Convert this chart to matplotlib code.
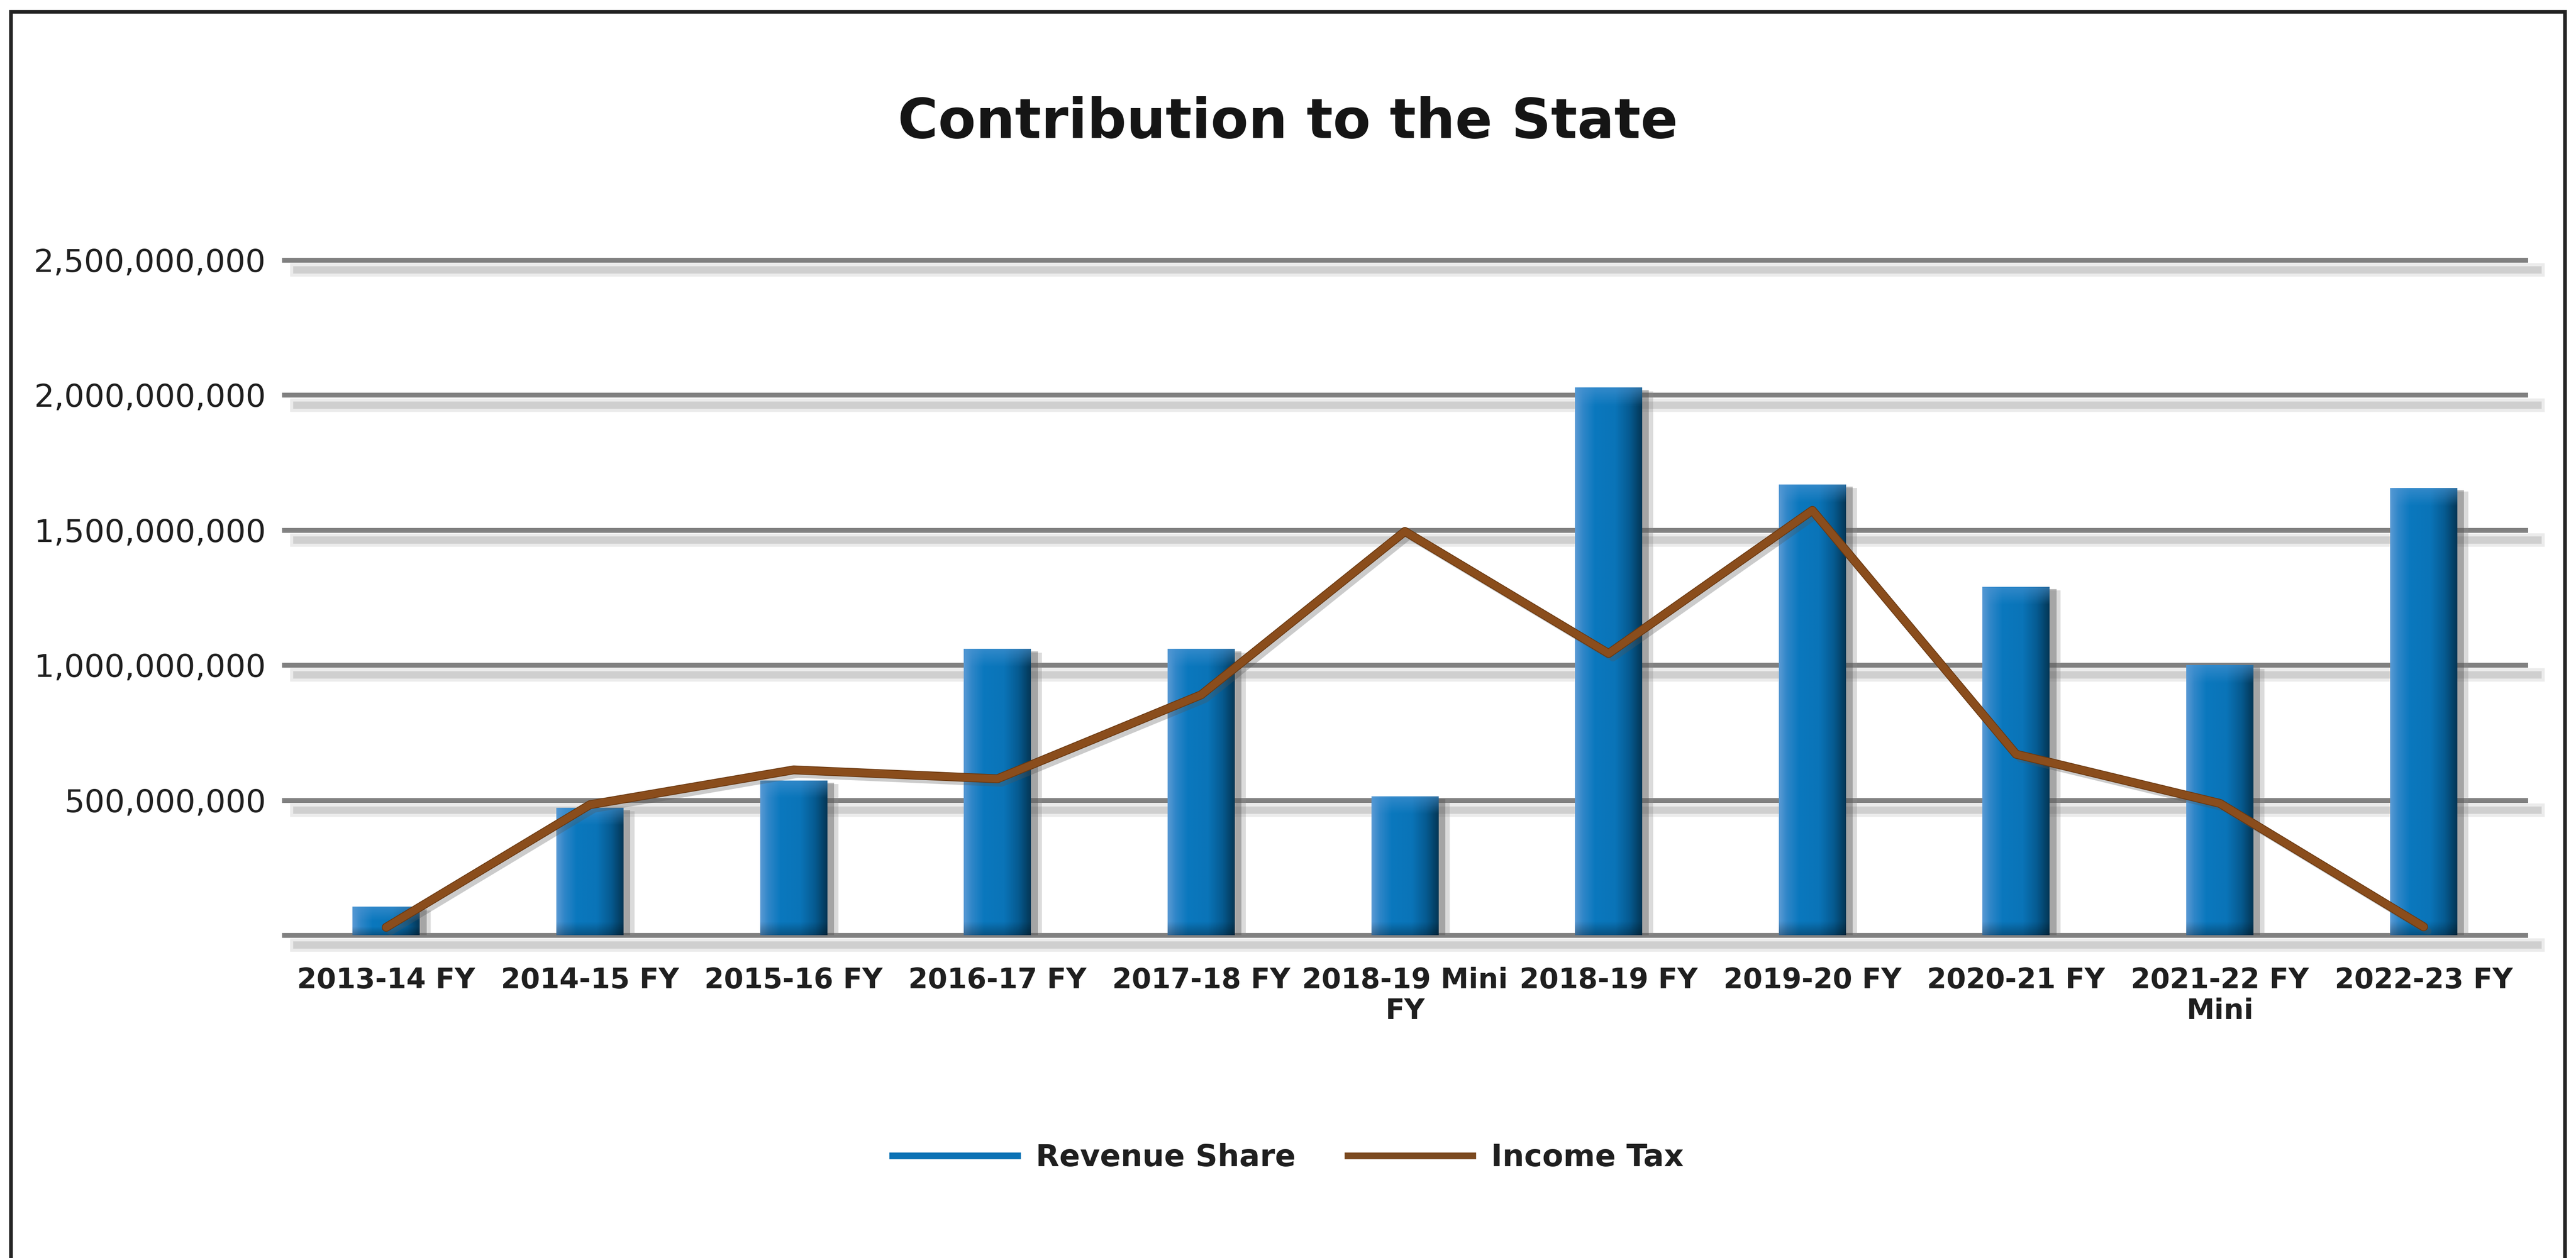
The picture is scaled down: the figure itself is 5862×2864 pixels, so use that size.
import numpy as np
import matplotlib
matplotlib.use("Agg")
import matplotlib.pyplot as plt
import matplotlib.patheffects as pe
from matplotlib.lines import Line2D
from matplotlib.patches import Rectangle
from matplotlib.colors import to_rgb

# data
categories = ["2013-14 FY", "2014-15 FY", "2015-16 FY", "2016-17 FY", "2017-18 FY",
              "2018-19 Mini\nFY", "2018-19 FY", "2019-20 FY", "2020-21 FY",
              "2021-22 FY\nMini", "2022-23 FY"]
revenue_share = [105e6, 472e6, 573e6, 1060e6, 1060e6, 514e6,
                 2028e6, 1669e6, 1290e6, 1000e6, 1656e6]
income_tax = [29e6, 483e6, 612e6, 579e6, 890e6, 1495e6,
              1043e6, 1573e6, 670e6, 488e6, 31e6]
y_ticks = [0, 500e6, 1000e6, 1500e6, 2000e6, 2500e6]
y_tick_labels = ["", "500,000,000", "1,000,000,000", "1,500,000,000",
                 "2,000,000,000", "2,500,000,000"]

BLUE = "#0a77bd"
BROWN = "#8a4d1c"
TEXT = "#1f1f1f"

W, H = 5862, 2864
fig = plt.figure(figsize=(W / 100, H / 100), dpi=100)
fig.patch.set_facecolor("white")

ax = fig.add_axes([647 / W, 1 - 2129 / H, 5100 / W, 1537 / H])
ax.set_xlim(-0.5, len(categories) - 0.5)
ax.set_ylim(0, 2.5e9)
for s in ax.spines.values():
    s.set_visible(False)

# gridlines with a soft drop shadow
for yv in y_ticks:
    ax.axhline(yv, color="#808080", lw=8, zorder=1, clip_on=False,
               path_effects=[pe.SimpleLineShadow(offset=(20, -16), shadow_color="#b0b0b0",
                                                 alpha=0.25, linewidth=22),
                             pe.SimpleLineShadow(offset=(20, -16), shadow_color="#909090",
                                                 alpha=0.3, linewidth=12),
                             pe.Normal()])

x = np.arange(len(categories))
bars = ax.bar(x, revenue_share, width=0.33, color=BLUE, zorder=3,
              path_effects=[pe.SimplePatchShadow(offset=(18, -6), shadow_rgbFace="#8a8a8a", alpha=0.3),
                            pe.SimplePatchShadow(offset=(11, -4), shadow_rgbFace="#555555", alpha=0.4),
                            pe.Normal()])

# horizontal shading on each bar (light left edge, dark right edge, lighter top)
stops = [(0.0, "#5a9ad4"), (0.12, "#2f86c8"), (0.3, "#0a78be"), (0.6, "#0a74b8"),
         (0.82, "#065a90"), (1.0, "#043756")]
cols = np.array([to_rgb(c) for _, c in stops])
pos = np.array([p for p, _ in stops])
xs = np.linspace(0, 1, 120)
row = np.stack([np.interp(xs, pos, cols[:, k]) for k in range(3)], axis=1)
px_per_unit = 1537 / 2.5e9
for b in bars:
    h = b.get_height()
    ny = 300
    img = np.repeat(row[None, :, :], ny, axis=0)
    bar_px = h * px_per_unit
    top_frac = min(40 / bar_px, 0.5)
    ys = np.linspace(1, 0, ny)  # top row first
    t = np.clip((ys - (1 - top_frac)) / top_frac, 0, 1)
    img = img + (np.array(to_rgb("#4b95d3")) - img) * (t[:, None, None] * 0.6)
    bot_frac = min(30 / bar_px, 0.3)
    tb = np.clip((bot_frac - ys) / bot_frac, 0, 1)
    img = img * (1 - 0.3 * tb[:, None, None])
    x0 = b.get_x()
    im = ax.imshow(np.clip(img, 0, 1), extent=[x0, x0 + b.get_width(), 0, h],
                   aspect="auto", zorder=3.5, interpolation="bilinear")
    im.set_clip_path(b)

ax.plot(x, income_tax, color=BROWN, lw=12, zorder=5, solid_joinstyle="round",
        solid_capstyle="round",
        path_effects=[pe.SimpleLineShadow(offset=(7, -7), shadow_color="#555555", alpha=0.3),
                      pe.Stroke(linewidth=14.5, foreground="#6a3810"),
                      pe.Normal()])

ax.set_xlim(-0.5, len(categories) - 0.5)
ax.set_ylim(0, 2.5e9)

ax.set_yticks(y_ticks)
ax.set_yticklabels(y_tick_labels, fontsize=52, color=TEXT, family="DejaVu Sans")
ax.set_xticks(x)
ax.set_xticklabels(categories, fontsize=46, fontweight="bold", color=TEXT,
                   family="DejaVu Sans", linespacing=1.15)
ax.tick_params(axis="y", length=0, pad=30)
ax.tick_params(axis="x", length=0, pad=52)

fig.text(0.5, 1 - 280 / H, "Contribution to the State", ha="center", va="center",
         fontsize=90, fontweight="bold", color="#151515", family="DejaVu Sans")

handles = [Line2D([], [], color="#0b72b5", lw=11),
           Line2D([], [], color="#7b4a20", lw=11)]
fig.legend(handles, ["Revenue Share", "Income Tax"], loc="center",
           bbox_to_anchor=(0.5, 1 - 2636 / H), ncol=2, frameon=False,
           prop={"family": "DejaVu Sans", "weight": "bold", "size": 50},
           handlelength=4.1, handletextpad=0.6, columnspacing=1.7, labelcolor=TEXT)

# outer frame (bottom edge lies outside the image)
fig.add_artist(Rectangle((25 / W, -0.05), (5837 - 25) / W, 1 - 27 / H + 0.05,
                         transform=fig.transFigure, fill=False, lw=6,
                         edgecolor="#222222", clip_on=False))

fig.savefig("out.png", dpi=100, facecolor="white")
